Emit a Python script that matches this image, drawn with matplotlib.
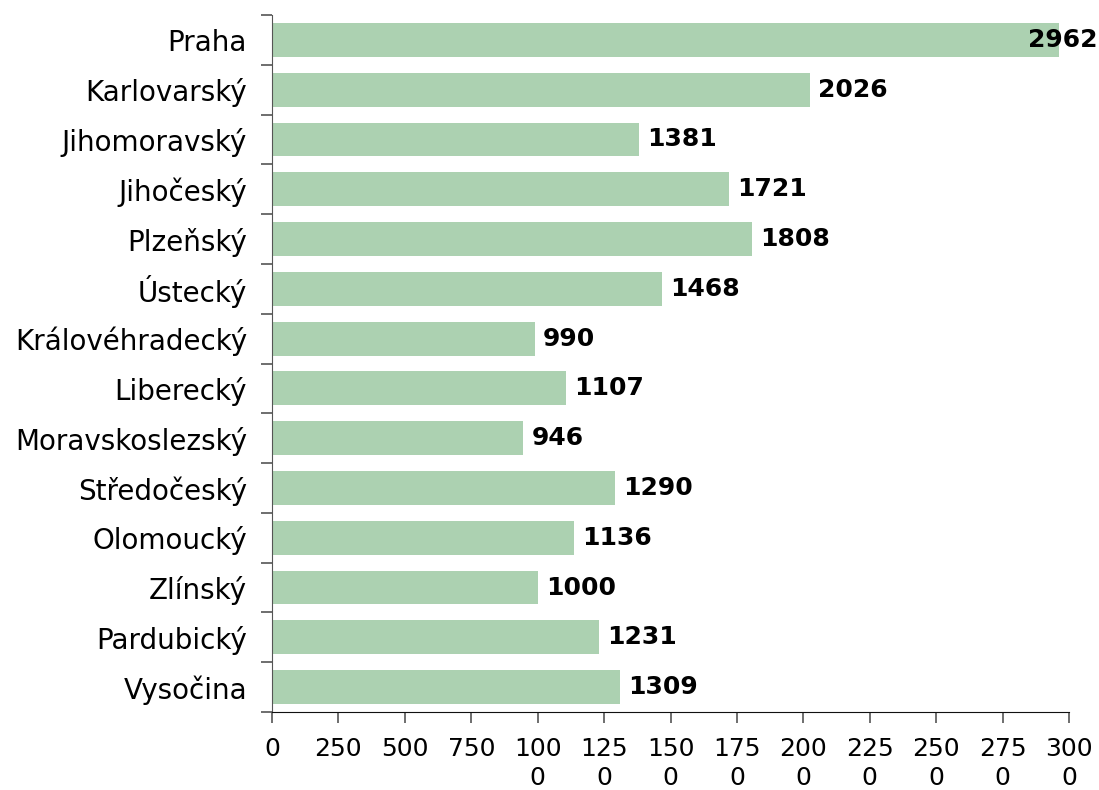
import numpy as np
import matplotlib.pyplot as plt
from matplotlib.transforms import blended_transform_factory

# Regions and values (top to bottom)
regions = ['Praha', 'Karlovarský', 'Jihomoravský', 'Jihočeský', 'Plzeňský',
           'Ústecký', 'Královéhradecký', 'Liberecký', 'Moravskoslezský',
           'Středočeský', 'Olomoucký', 'Zlínský', 'Pardubický', 'Vysočina']
values = [2962, 2026, 1381, 1721, 1808, 1468, 990, 1107, 946,
          1290, 1136, 1000, 1231, 1309]
xticks = [0, 250, 500, 750, 1000, 1250, 1500, 1750, 2000, 2250, 2500, 2750, 3000]
xticklabels = ['0', '250', '500', '750', '100\n0', '125\n0', '150\n0', '175\n0',
               '200\n0', '225\n0', '250\n0', '275\n0', '300\n0']

fig = plt.figure(figsize=(10.99, 7.90), dpi=100)
ax = fig.add_axes([272/1099, 1 - 712/790, (1069-272)/1099, (712-15)/790])

y = np.arange(len(regions))
ax.barh(y, values, height=0.68, color='#acd1b1')
ax.set_ylim(len(regions) - 0.5, -0.5)
ax.set_xlim(0, 3000)

ax.set_yticks(y)
ax.set_yticklabels(regions, fontsize=20)
ax.tick_params(axis='y', length=0, pad=18)
ax.set_yticks(np.arange(-0.5, len(regions)), minor=True)
ax.tick_params(axis='y', which='minor', length=8, width=1.2, color='#555555')

ax.set_xticks(xticks)
ax.set_xticklabels(xticklabels, fontsize=18, linespacing=1.25)
ax.tick_params(axis='x', length=8, width=1.2, color='#555555', pad=10)

for s in ['top', 'right']:
    ax.spines[s].set_visible(False)
ax.spines['left'].set_color('#555555')
ax.spines['bottom'].set_color('#111111')

# value labels; the largest one is pushed against the right figure edge
edge = blended_transform_factory(fig.transFigure, ax.transData)
vmax = max(values)
for i, v in enumerate(values):
    if v == vmax:
        ax.text(0.999, i, str(v), transform=edge, ha='right', va='center',
                fontsize=18, fontweight='bold', clip_on=False)
    else:
        ax.text(v + 30, i, str(v), ha='left', va='center', fontsize=18,
                fontweight='bold')

fig.savefig('out.png', dpi=100)
